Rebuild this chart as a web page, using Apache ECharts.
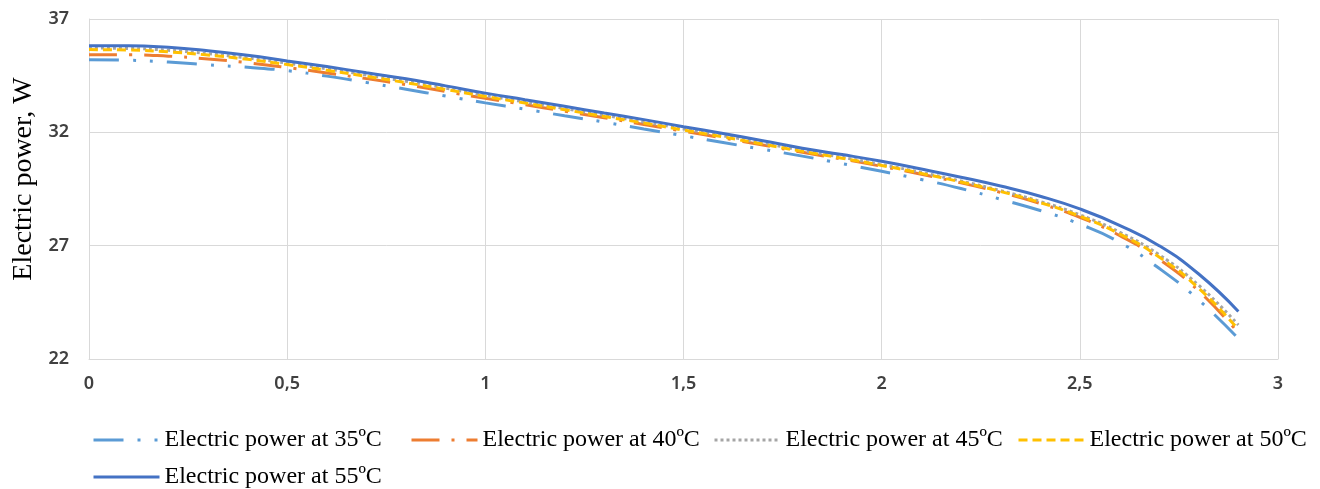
<!DOCTYPE html>
<html>
<head>
<meta charset="utf-8">
<script src="https://cdn.jsdelivr.net/npm/echarts@6/dist/echarts.min.js"></script>
<style>
  html, body { margin: 0; padding: 0; background: #fff; }
  #chart { width: 1320px; height: 489px; }
</style>
</head>
<body>
<div id="chart"></div>
<script>
  // x positions of the read-off points
  var xValues = [0, 0.1, 0.2, 0.3, 0.4, 0.5, 0.6, 0.7, 0.8, 0.9, 1.0, 1.1, 1.2, 1.3, 1.4,
                 1.5, 1.6, 1.7, 1.8, 1.9, 2.0, 2.1, 2.2, 2.3, 2.4, 2.5, 2.6, 2.7, 2.8, 2.9];
  var power35 = [35.2, 35.18, 35.1, 34.98, 34.87, 34.72, 34.48, 34.2, 33.9, 33.6, 33.3, 33.02, 32.73, 32.45, 32.15,
                 31.85, 31.55, 31.25, 30.95, 30.62, 30.28, 29.92, 29.52, 29.05, 28.55, 27.95, 27.15, 26.0, 24.6, 22.9];
  var power40 = [35.42, 35.42, 35.36, 35.24, 35.07, 34.86, 34.62, 34.37, 34.1, 33.8, 33.5, 33.22, 32.93, 32.64, 32.35,
                 32.05, 31.75, 31.44, 31.12, 30.82, 30.5, 30.15, 29.77, 29.35, 28.86, 28.25, 27.45, 26.4, 25.0, 23.15];
  var power45 = [35.72, 35.7, 35.62, 35.47, 35.28, 35.05, 34.8, 34.53, 34.25, 33.95, 33.63, 33.34, 33.05, 32.75, 32.46,
                 32.15, 31.85, 31.53, 31.2, 30.9, 30.58, 30.23, 29.85, 29.43, 28.95, 28.36, 27.6, 26.6, 25.25, 23.5];
  var power50 = [35.65, 35.63, 35.55, 35.41, 35.22, 34.99, 34.74, 34.47, 34.19, 33.89, 33.58, 33.29, 33.0, 32.7, 32.41,
                 32.1, 31.8, 31.48, 31.16, 30.86, 30.54, 30.19, 29.81, 29.39, 28.9, 28.3, 27.52, 26.5, 25.12, 23.3];
  var power55 = [35.82, 35.82, 35.75, 35.6, 35.4, 35.15, 34.9, 34.63, 34.36, 34.05, 33.73, 33.44, 33.15, 32.85, 32.56,
                 32.25, 31.95, 31.63, 31.3, 31.02, 30.72, 30.38, 30.02, 29.63, 29.18, 28.62, 27.9, 27.0, 25.75, 24.1];
  var seriesNames = ['Electric power at 35ºC', 'Electric power at 40ºC', 'Electric power at 45ºC',
                     'Electric power at 50ºC', 'Electric power at 55ºC'];

  function pairs(ys) {
    return xValues.map(function (x, i) { return [x, ys[i]]; });
  }

  var legendText = { fontFamily: 'Liberation Serif', fontSize: 24, color: '#000' };
  function legendAt(name, left, top) {
    return {
      data: [name], left: left, top: top, itemWidth: 66, itemHeight: 14,
      textStyle: legendText, selectedMode: false,
      itemStyle: { opacity: 0 },
      lineStyle: { width: 3 }
    };
  }

  var myChart = echarts.init(document.getElementById('chart'));
  myChart.setOption({
    animation: false,
    grid: { left: 89, right: 42, top: 19, bottom: 130, outerBoundsMode: 'none', containLabel: false },
    legend: [
      legendAt(seriesNames[0], 87, 423),
      legendAt(seriesNames[1], 405, 423),
      legendAt(seriesNames[2], 708, 423),
      legendAt(seriesNames[3], 1012, 423),
      legendAt(seriesNames[4], 87, 460)
    ],
    xAxis: {
      type: 'value', min: 0, max: 3, interval: 0.5,
      axisLine: { show: true, lineStyle: { color: '#d9d9d9', width: 1 } },
      axisTick: { show: false },
      splitLine: { show: true, lineStyle: { color: '#d9d9d9', width: 1 } },
      axisLabel: {
        margin: 16, color: '#404040', fontFamily: 'Noto Sans', fontSize: 18, fontWeight: 600,
        formatter: function (v) { return String(v).replace('.', ','); }
      }
    },
    yAxis: {
      type: 'value', min: 22, max: 37, interval: 5,
      name: 'Electric power, W', nameLocation: 'middle', nameGap: 50,
      nameTextStyle: { fontFamily: 'Liberation Serif', fontSize: 28, color: '#000', padding: [0, 0, 0, 20] },
      axisLine: { show: true, lineStyle: { color: '#d9d9d9', width: 1 } },
      axisTick: { show: false },
      splitLine: { show: true, lineStyle: { color: '#d9d9d9', width: 1 } },
      axisLabel: { margin: 20, color: '#404040', fontFamily: 'Noto Sans', fontSize: 18, fontWeight: 600 }
    },
    series: [
      {
        name: seriesNames[0], type: 'line', smooth: true, symbol: 'none', data: pairs(power35),
        itemStyle: { color: '#5B9BD5' },
        lineStyle: { color: '#5B9BD5', width: 3, type: [30, 14, 3, 14, 3, 14] }
      },
      {
        name: seriesNames[1], type: 'line', smooth: true, symbol: 'none', data: pairs(power40),
        itemStyle: { color: '#ED7D31' },
        lineStyle: { color: '#ED7D31', width: 3, type: [28, 12, 3, 12] }
      },
      {
        name: seriesNames[2], type: 'line', smooth: true, symbol: 'none', data: pairs(power45),
        itemStyle: { color: '#A5A5A5' },
        lineStyle: { color: '#A5A5A5', width: 3, type: [3, 3] }
      },
      {
        name: seriesNames[3], type: 'line', smooth: true, symbol: 'none', data: pairs(power50),
        itemStyle: { color: '#FFC000' },
        lineStyle: { color: '#FFC000', width: 3, type: [9, 5] }
      },
      {
        name: seriesNames[4], type: 'line', smooth: true, symbol: 'none', data: pairs(power55),
        itemStyle: { color: '#4472C4' },
        lineStyle: { color: '#4472C4', width: 3, type: 'solid' }
      }
    ]
  });
</script>
</body>
</html>
